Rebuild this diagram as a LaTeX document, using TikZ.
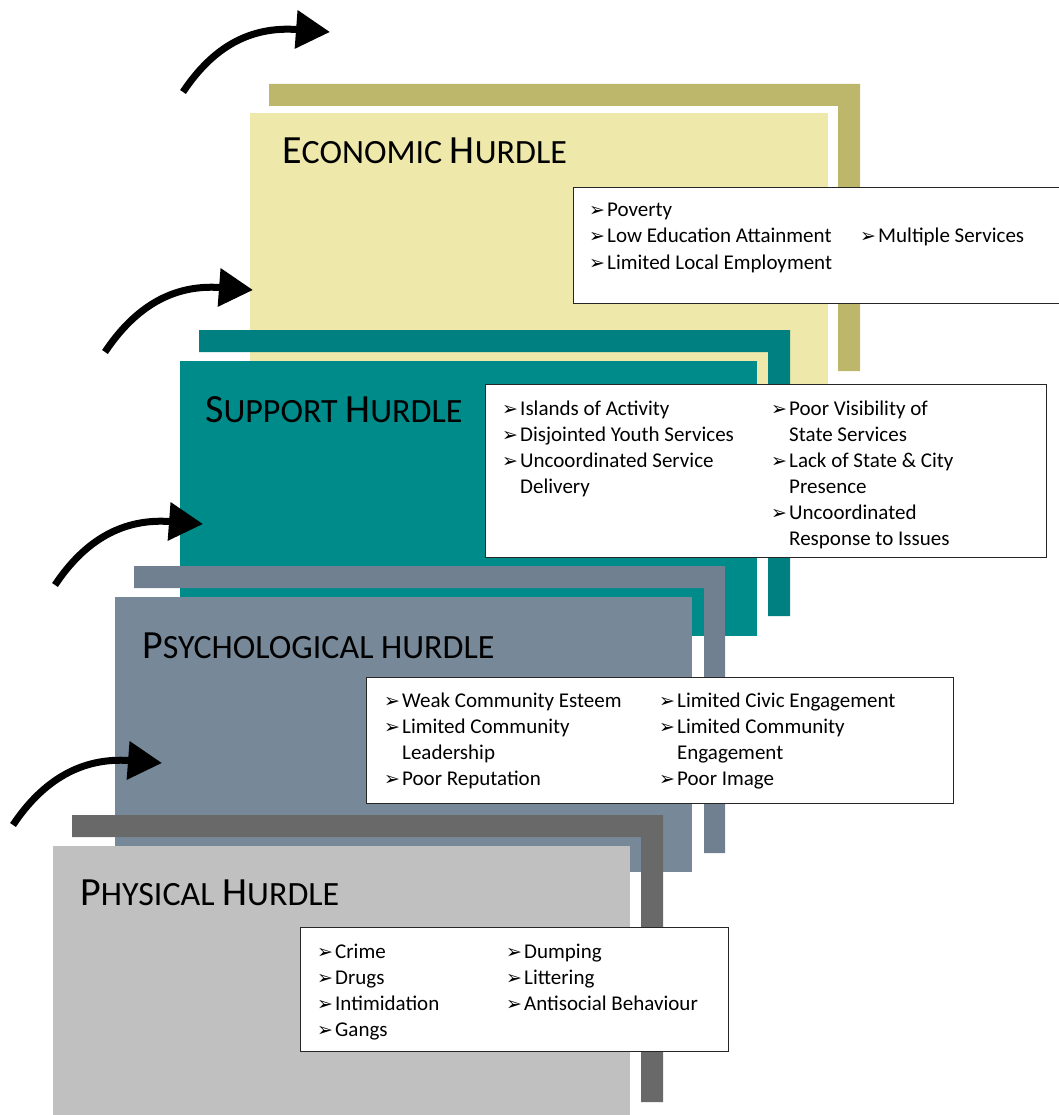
\documentclass[tikz,border=0pt]{standalone}
\usepackage{fontspec}
\setmainfont{Carlito}
\newfontfamily\dingfont{DejaVu Sans}
\usetikzlibrary{arrows.meta}
\definecolor{ecobar}{HTML}{BDB76B}
\definecolor{ecopanel}{HTML}{EEE8AA}
\definecolor{supbar}{HTML}{008080}
\definecolor{suppanel}{HTML}{008B8B}
\definecolor{psybar}{HTML}{708090}
\definecolor{psypanel}{HTML}{778899}
\definecolor{phybar}{HTML}{696969}
\definecolor{phypanel}{HTML}{C0C0C0}
\newcommand{\bul}{\makebox[18pt][l]{\dingfont\fontsize{19}{19}\selectfont ➢}}
\newcommand{\hsc}[2]{{\fontsize{40}{40}\selectfont #1}{\fontsize{34}{34}\selectfont #2}}

\begin{document}
\begin{tikzpicture}[x=1pt,y=-1pt,
  title/.style={anchor=base west,inner sep=0pt},
  listbox/.style={draw=black!85,line width=1pt,fill=white,anchor=north west,inner sep=0pt},
  items/.style={anchor=base west,inner sep=0pt,font=\fontsize{21}{26}\selectfont},
  hurdlearrow/.style={line width=7pt,-{Triangle[length=34pt,width=37pt]}}]
\useasboundingbox (0,0) rectangle (1058,1115);

% economic
\fill[ecobar] (269,84) -- (860,84) -- (860,371) -- (838,371) -- (838,106) -- (269,106) -- cycle;
\fill[ecopanel] (250,113) rectangle (828,388);
\node[title] (ecotitle) at (282,164) {\hsc{E}{CONOMIC }\hsc{H}{URDLE}};
\node[listbox,minimum width=500pt,minimum height=116pt] (ecobox) at (573,187) {};
\node[items] (ecoL) at (589,217) {\begin{tabular}[t]{@{}l@{}l@{}}
\bul & Poverty\\
\bul & Low Education Attainment\\
\bul & Limited Local Employment
\end{tabular}};
\node[items] (ecoR) at (860,243) {\begin{tabular}[t]{@{}l@{}l@{}}
\bul & Multiple Services
\end{tabular}};

% support
\fill[supbar] (199,330) -- (790,330) -- (790,616) -- (768,616) -- (768,352) -- (199,352) -- cycle;
\fill[suppanel] (180,361) rectangle (757,636);
\node[title] (suptitle) at (205,422) {\hsc{S}{UPPORT }\hsc{H}{URDLE}};
\node[listbox,minimum width=561pt,minimum height=173pt] (supbox) at (485,384) {};
\node[items] (supL) at (502,415) {\begin{tabular}[t]{@{}l@{}l@{}}
\bul & Islands of Activity\\
\bul & Disjointed Youth Services\\
\bul & Uncoordinated Service\\
     & Delivery
\end{tabular}};
\node[items] (supR) at (771,415) {\begin{tabular}[t]{@{}l@{}l@{}}
\bul & Poor Visibility of\\
     & State Services\\
\bul & Lack of State \& City\\
     & Presence\\
\bul & Uncoordinated\\
     & Response to Issues
\end{tabular}};

% psychological
\fill[psybar] (134,566) -- (725,566) -- (725,853) -- (704,853) -- (704,588) -- (134,588) -- cycle;
\fill[psypanel] (115,597) rectangle (692,872);
\node[title] (psytitle) at (142,658) {\hsc{P}{SYCHOLOGICAL HURDLE}};
\node[listbox,minimum width=587pt,minimum height=126pt] (psybox) at (366,677) {};
\node[items] (psyL) at (384,707) {\begin{tabular}[t]{@{}l@{}l@{}}
\bul & Weak Community Esteem\\
\bul & Limited Community\\
     & Leadership\\
\bul & Poor Reputation
\end{tabular}};
\node[items] (psyR) at (659,707) {\begin{tabular}[t]{@{}l@{}l@{}}
\bul & Limited Civic Engagement\\
\bul & Limited Community\\
     & Engagement\\
\bul & Poor Image
\end{tabular}};

% physical
\fill[phybar] (72,815) -- (663,815) -- (663,1102) -- (641,1102) -- (641,837) -- (72,837) -- cycle;
\fill[phypanel] (53,846) rectangle (630,1121);
\node[title] (phytitle) at (80,905) {\hsc{P}{HYSICAL }\hsc{H}{URDLE}};
\node[listbox,minimum width=428pt,minimum height=124pt] (phybox) at (300,927) {};
\node[items] (phyL) at (317,958) {\begin{tabular}[t]{@{}l@{}l@{}}
\bul & Crime\\
\bul & Drugs\\
\bul & Intimidation\\
\bul & Gangs
\end{tabular}};
\node[items] (phyR) at (506,958) {\begin{tabular}[t]{@{}l@{}l@{}}
\bul & Dumping\\
\bul & Littering\\
\bul & Antisocial Behaviour
\end{tabular}};

% arrows
\coordinate (a1) at (183,92);  \coordinate (b1) at (330,32);
\coordinate (a2) at (105,352); \coordinate (b2) at (253,290);
\coordinate (a3) at (55,585);  \coordinate (b3) at (203,524);
\coordinate (a4) at (13,825);  \coordinate (b4) at (162,763);
\foreach \i in {1,2,3,4}
  \draw[hurdlearrow] (a\i) .. controls +(30,-45) and +(-80,-6) .. (b\i);
\end{tikzpicture}
\end{document}
